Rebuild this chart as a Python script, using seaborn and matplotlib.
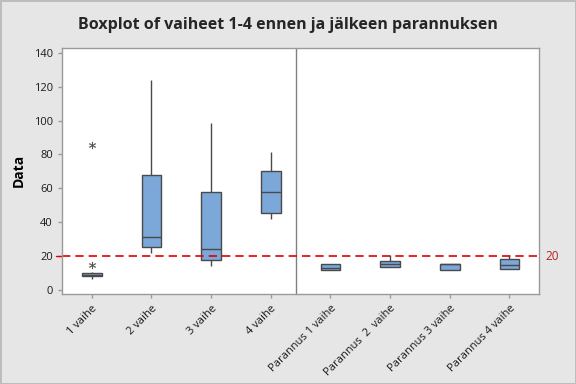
import matplotlib
matplotlib.use("Agg")
import matplotlib.pyplot as plt
import seaborn as sns
import pandas as pd

categories = ["1 vaihe", "2 vaihe", "3 vaihe", "4 vaihe",
              "Parannus 1 vaihe", "Parannus  2  vaihe",
              "Parannus 3 vaihe", "Parannus 4 vaihe"]
vaihe1 = [6.3, 7.2, 7.6, 8.1, 8.4, 8.7, 9.0, 9.3, 9.6, 10.0, 10.6, 14.9, 85.8]
vaihe2 = [21.6, 25.1, 31.0, 68.1, 123.7]
vaihe3 = [14.3, 17.7, 24.0, 58.1, 98.3]
vaihe4 = [42.0, 45.2, 58.1, 70.5, 81.3]
paran1 = [11.6, 11.6, 13.1, 15.1, 15.1]
paran2 = [13.4, 13.4, 15.3, 17.1, 20.6]
paran3 = [11.6, 11.6, 15.1, 15.1, 15.1]
paran4 = [12.2, 12.2, 14.9, 18.3, 20.6]
reference_value = 20
yticks = [0, 20, 40, 60, 80, 100, 120, 140]

groups = [vaihe1, vaihe2, vaihe3, vaihe4, paran1, paran2, paran3, paran4]
rows = []
for cat, vals in zip(categories, groups):
    for v in vals:
        rows.append({"cat": cat, "Data": v})
df = pd.DataFrame(rows)

sns.set_style("white")
plt.rcParams["font.family"] = ["Open Sans", "DejaVu Sans"]

fig = plt.figure(figsize=(5.76, 3.84), dpi=100)
fig.patch.set_facecolor("#E6E6E6")
fig.patch.set_edgecolor("#BDBDBD")
fig.patch.set_linewidth(1.0)
ax = fig.add_axes([0.1076, 0.2344, 0.8287, 0.6414])
ax.set_facecolor("white")

edge = "#4A4A4A"
sns.boxplot(data=df, x="cat", y="Data", order=categories, ax=ax,
            color="#7BA7D9", saturation=1, width=0.33, showcaps=False,
            linewidth=1.0, linecolor=edge,
            flierprops=dict(marker="$*$", markersize=5, markerfacecolor=edge,
                            markeredgecolor=edge, markeredgewidth=0.2),
            whiskerprops=dict(color=edge, linewidth=1.0),
            medianprops=dict(color=edge, linewidth=1.0),
            boxprops=dict(edgecolor=edge, linewidth=1.0))

ax.set_ylim(-2.4, 143)
ax.set_xlim(-0.5, len(categories) - 0.5)
ax.set_yticks(yticks)
ax.axvline(3.43, color="#808080", linewidth=1.0)
ax.axhline(reference_value, color="#E00000", linestyle=(0, (5, 3)), linewidth=1.2)
ax.text(1.012, reference_value, str(reference_value), transform=ax.get_yaxis_transform(),
        color="#B22222", fontsize=8.5, va="center", ha="left")
ax.plot([-0.012, 0], [reference_value, reference_value], color="#E00000",
        linewidth=1.0, transform=ax.get_yaxis_transform(), clip_on=False)

for s in ax.spines.values():
    s.set_color("#9A9A9A")
    s.set_linewidth(1.0)
ax.tick_params(axis="both", which="both", length=3, width=1, color="#9A9A9A",
               labelsize=8, labelcolor="#1A1A1A", direction="out")
ax.tick_params(axis="x", bottom=True)
ax.tick_params(axis="y", left=True)
ax.set_xticks(range(len(categories)))
ax.set_xticklabels(categories, rotation=45, ha="right", rotation_mode="anchor")
ax.set_xlabel("")
ax.set_ylabel("Data", fontsize=10, fontweight="bold", color="black", labelpad=6)
fig.suptitle("Boxplot of vaiheet 1-4 ennen ja jälkeen parannuksen",
             fontsize=11.5, fontweight="bold", x=0.5, y=0.955)

fig.savefig("out.png", dpi=100, facecolor=fig.get_facecolor(),
            edgecolor=fig.get_edgecolor())
